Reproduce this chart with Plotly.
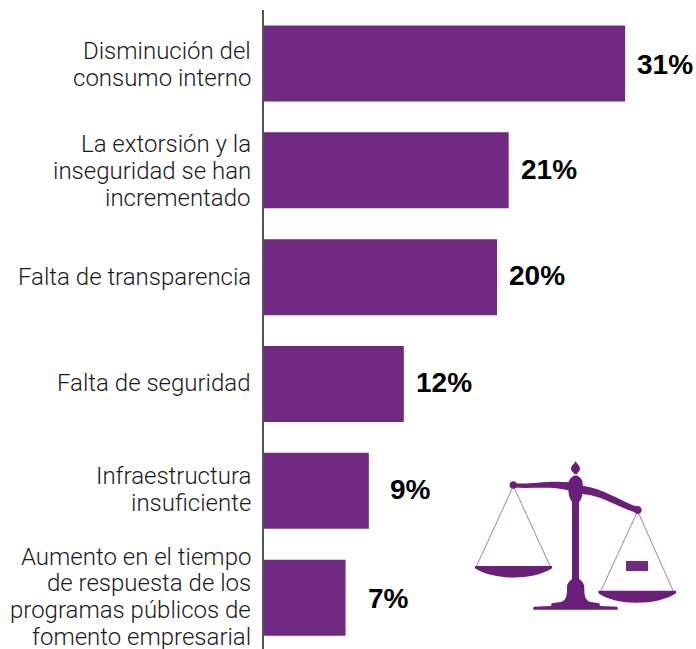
import re
import plotly.graph_objects as go

categories = [
    "Disminución del<br>consumo interno",
    "La extorsión y la<br>inseguridad se han<br>incrementado",
    "Falta de transparencia",
    "Falta de seguridad",
    "Infraestructura<br>insuficiente",
    "Aumento en el tiempo<br>de respuesta de los<br>programas públicos de<br>fomento empresarial",
]
values = [31, 21, 20, 12, 9, 7]
value_labels = ["31%", "21%", "20%", "12%", "9%", "7%"]
label_xshift = [10, 10, 10, 10, 19, 20]
label_yshift = [-1, 1, 2, 2, 1, -1]
category_yshift = [-1, -1, 0, 1, 1, 1]

W, H = 696, 649
L, T = 264, 10
PURPLE = "#702A82"
ICON = "#6A1F78"
THIN = "#A67FB3"
LINE_PITCH = 26.8


def conv(path):
    # icon outline is traced in a 3x crop whose origin is (460, 450) in page pixels
    def pair(m):
        px = 460 + float(m.group(1)) / 3
        py = 450 + float(m.group(2)) / 3
        return f"{(px - L) / (W - L):.5f},{(H - py) / (H - T):.5f}"
    return re.sub(r"(-?\d+\.?\d*) (-?\d+\.?\d*)", pair, path)


def icon(path, fill=ICON, line=None, width=0):
    return dict(type="path", xref="paper", yref="paper", path=conv(path),
                fillcolor=fill, line=dict(color=line or "rgba(0,0,0,0)", width=width),
                layer="above")


def circle(cx, cy, r):
    k = r * 0.5523
    return (f"M {cx - r} {cy} C {cx - r} {cy - k} {cx - k} {cy - r} {cx} {cy - r} "
            f"C {cx + k} {cy - r} {cx + r} {cy - k} {cx + r} {cy} "
            f"C {cx + r} {cy + k} {cx + k} {cy + r} {cx} {cy + r} "
            f"C {cx - k} {cy + r} {cx - r} {cy + k} {cx - r} {cy} Z")


shapes = [
    # strings
    icon("M 160 108 L 48 352", fill="rgba(0,0,0,0)", line=THIN, width=1),
    icon("M 160 108 L 272 352", fill="rgba(0,0,0,0)", line=THIN, width=1),
    icon("M 533 183 L 421 426", fill="rgba(0,0,0,0)", line=THIN, width=1),
    icon("M 533 183 L 641 426", fill="rgba(0,0,0,0)", line=THIN, width=1),
    # beam
    icon("M 160 99 C 200 106 260 90 330 97 L 372 108 C 430 116 480 152 533 171 "
         "L 533 189 C 480 176 430 138 372 133 L 330 122 C 270 106 210 118 160 112 Z"),
    icon(circle(160, 105, 11.5)),
    icon(circle(533, 180, 12)),
    # column, head and finial
    icon("M 336 150 L 357 150 L 357 388 L 336 388 Z"),
    icon("M 347 76 C 332 80 324 92 326 106 C 324 125 326 145 338 158 L 356 158 "
         "C 368 145 370 125 368 106 C 370 92 362 80 347 76 Z"),
    icon("M 347 33 C 350 42 360 46 360 56 C 360 64 352 66 352 72 L 342 72 "
         "C 342 66 333 64 333 56 C 333 46 344 42 347 33 Z"),
    # base
    icon("M 338 385 L 356 385 C 362 392 372 398 373 410 C 373 430 372 450 392 456 "
         "L 418 460 L 420 468 L 472 470 L 474 479 L 219 479 L 221 470 L 273 468 "
         "L 275 460 L 302 456 C 322 450 321 430 321 410 C 322 398 332 392 338 385 Z"),
    # pans
    icon("M 45 348 L 276 348 L 276 355 C 220 392 100 392 45 355 Z"),
    icon("M 415 422 L 648 422 L 648 430 C 590 468 470 468 415 430 Z"),
    # weight
    icon("M 498 333 L 564 333 L 564 363 L 498 363 Z", fill=PURPLE),
]

fig = go.Figure(go.Bar(
    x=values, y=categories, orientation="h",
    marker=dict(color=PURPLE, line=dict(width=0)),
    width=0.711,
))

for cat, val, lab, dx, dy, cdy in zip(categories, values, value_labels,
                                      label_xshift, label_yshift, category_yshift):
    fig.add_annotation(x=val, y=cat, text=f"<b>{lab}</b>", showarrow=False,
                       xanchor="left", yanchor="middle", xshift=dx, yshift=dy,
                       font=dict(family="Liberation Sans", size=28, color="#000000"))
    lines = cat.split("<br>")
    for i, line in enumerate(lines):
        fig.add_annotation(
            xref="paper", x=0, y=cat, text=line, showarrow=False,
            xanchor="right", yanchor="middle", xshift=-11,
            yshift=((len(lines) - 1) / 2 - i) * LINE_PITCH + cdy,
            font=dict(family="Roboto", size=24, color="#1A1A1A", weight=300),
        )

fig.update_layout(
    width=W, height=H,
    margin=dict(l=L, r=0, t=T, b=0, pad=0),
    paper_bgcolor="#FFFFFF", plot_bgcolor="#FFFFFF",
    showlegend=False,
    shapes=shapes,
    xaxis=dict(range=[0, 37.08], visible=False),
    yaxis=dict(
        autorange=False, range=[5.48, -0.5],
        categoryorder="array", categoryarray=categories,
        showgrid=False, zeroline=False,
        showline=True, linecolor="#555555", linewidth=2,
        ticks="", showticklabels=False,
    ),
)

fig.write_html(
    "out.html",
    config={"displayModeBar": False},
    post_script="document.body.style.margin='0';document.documentElement.style.overflow='hidden';",
)
